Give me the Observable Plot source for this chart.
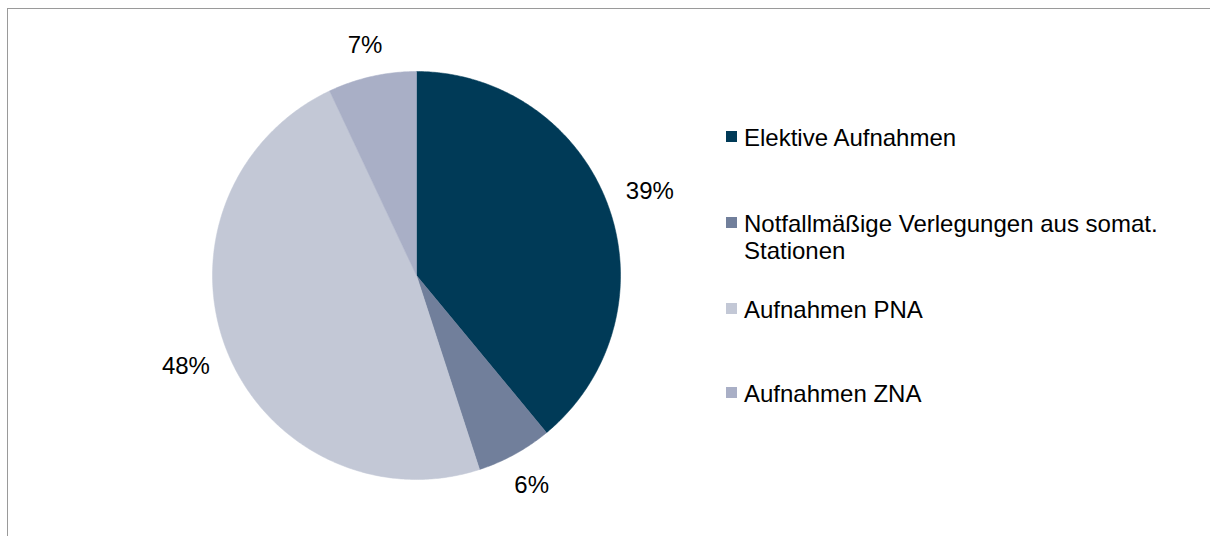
<!DOCTYPE html>
<html>
<head>
<meta charset="utf-8">
<script src="https://cdn.jsdelivr.net/npm/d3@7"></script>
<script src="https://cdn.jsdelivr.net/npm/@observablehq/plot@0.6"></script>
<style>
  html, body { margin: 0; padding: 0; background: #fff; }
  #wrap { position: relative; width: 1210px; height: 536px; overflow: hidden; font-family: "Liberation Sans", Arial, sans-serif; }
  #frame { position: absolute; left: 7px; top: 8px; width: 1300px; height: 700px; border-top: 1.5px solid #9a9a9a; border-left: 1.5px solid #9a9a9a; box-sizing: border-box; pointer-events: none; }
  #legend { position: absolute; left: 726px; top: 124px; font-size: 24px; color: #000; }
  .item { display: flex; align-items: flex-start; line-height: 27px; white-space: nowrap; }
  .sw { width: 11px; height: 11px; margin-top: 7px; margin-right: 7px; flex: none; }
</style>
</head>
<body>
<div id="wrap">
  <div id="chart"></div>
  <div id="frame"></div>
  <div id="legend"></div>
</div>
<script>
const categories = ["Elektive Aufnahmen", "Notfallmäßige Verlegungen aus somat. Stationen", "Aufnahmen PNA", "Aufnahmen ZNA"];
const legendLines = [["Elektive Aufnahmen"], ["Notfallmäßige Verlegungen aus somat.", "Stationen"], ["Aufnahmen PNA"], ["Aufnahmen ZNA"]];
const values = [39, 6, 48, 7];
const labels = ["39%", "6%", "48%", "7%"];
const colors = ["#003a57", "#717f9b", "#c3c8d6", "#a9afc6"];

const W = 1210, H = 536;
const cx = 416, cy = 275, R = 204;
const FS = 24;

const pie = d3.pie().sort(null).value(d => d.value)(categories.map((c, i) => ({cat: c, value: values[i], label: labels[i]})));

// slice outlines in unit coordinates (clockwise from 12 o'clock)
const pts = [];
pie.forEach(s => {
  pts.push({cat: s.data.cat, x: 0, y: 0});
  const n = Math.max(2, Math.ceil((s.endAngle - s.startAngle) / 0.01));
  for (let k = 0; k <= n; k++) {
    const a = s.startAngle + (s.endAngle - s.startAngle) * k / n;
    pts.push({cat: s.data.cat, x: Math.sin(a), y: Math.cos(a)});
  }
  pts.push({cat: s.data.cat, x: 0, y: 0});
});

// outside-end labels: gap beyond rim plus half the text box in the label direction
const charW = ch => ch === "%" ? 0.889 : 0.556;
const lab = pie.map(s => {
  const a = (s.startAngle + s.endAngle) / 2;
  const hw = [...s.data.label].reduce((t, ch) => t + charW(ch), 0) * FS / 2;
  const hh = 10;
  const d = (R + 18 + hw * Math.abs(Math.sin(a)) + hh * Math.abs(Math.cos(a))) / R;
  return {label: s.data.label, x: d * Math.sin(a), y: d * Math.cos(a)};
});

const chart = Plot.plot({
  width: W, height: H,
  margin: 0,
  style: {background: "transparent", fontFamily: "Liberation Sans, Arial, sans-serif"},
  x: {domain: [-cx / R, (W - cx) / R], range: [0, W], axis: null},
  y: {domain: [-(H - cy) / R, cy / R], range: [H, 0], axis: null},
  color: {domain: categories, range: colors},
  marks: [
    Plot.line(pts, {x: "x", y: "y", z: "cat", fill: "cat", stroke: "cat", strokeWidth: 0.5, curve: "linear"}),
    Plot.text(lab, {x: "x", y: "y", text: "label", fontSize: FS, fill: "#000"})
  ]
});
document.getElementById("chart").appendChild(chart);

const leg = document.getElementById("legend");
const gaps = [0, 59, 32, 57];
categories.forEach((c, i) => {
  const it = document.createElement("div");
  it.className = "item";
  it.style.marginTop = gaps[i] + "px";
  const sw = document.createElement("span");
  sw.className = "sw";
  sw.style.background = colors[i];
  const tx = document.createElement("span");
  legendLines[i].forEach((ln, j) => {
    if (j) tx.appendChild(document.createElement("br"));
    tx.appendChild(document.createTextNode(ln));
  });
  it.appendChild(sw); it.appendChild(tx);
  leg.appendChild(it);
});
</script>
</body>
</html>
